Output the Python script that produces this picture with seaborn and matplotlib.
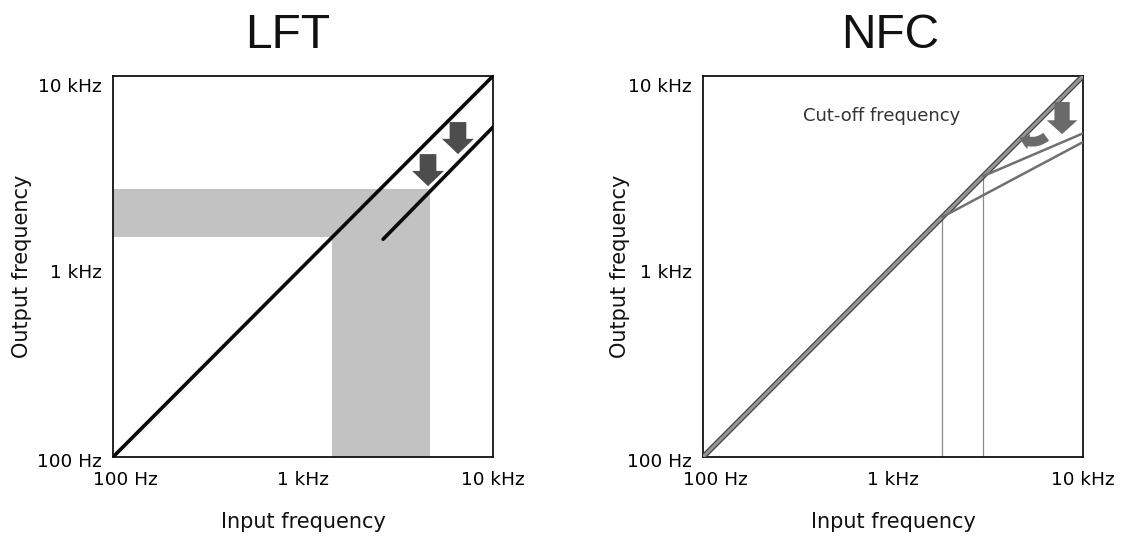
import numpy as np
import pandas as pd
import matplotlib
matplotlib.use("Agg")
import matplotlib.pyplot as plt
import matplotlib.transforms as mtransforms
from matplotlib.patches import FancyArrowPatch
import seaborn as sns

# ---------------- data ----------------
tick_values = [100, 1000, 10000]
tick_labels = ["100 Hz", "1 kHz", "10 kHz"]

# LFT panel
lft_diag_in = [100, 10000]
lft_diag_out = [100, 10000]
lft_shift_in = [2640, 10000]
lft_shift_out = [1390, 5390]
band_out_range = [1420, 2540]      # horizontal grey band (output)
band_in_range = [1420, 4660]       # vertical grey band (input)
lft_arrow_x = [4550, 6540]
lft_arrow_top = [3890, 5730]
lft_arrow_tip = [2640, 3890]

# NFC panel
nfc_diag_in = [100, 10000]
nfc_diag_out = [100, 10000]
nfc_cutoffs = [1820, 2980]
nfc_end_in = [10000, 10000]
nfc_end_out = [4500, 5000]
nfc_arrow_x = [7760]
nfc_arrow_top = [7300]
nfc_arrow_tip = [4950]
curve_arrow_from = [6400, 4800]
curve_arrow_to = [4650, 4750]

W, H = 1122, 538
fig = plt.figure(figsize=(W / 100, H / 100), dpi=100)
sns.set_style("white")
plt.rcParams['font.family'] = ['DejaVu Sans']

def ax_rect(x0, y0, x1, y1):
    return [x0 / W, (H - y1) / H, (x1 - x0) / W, (y1 - y0) / H]

axL = fig.add_axes(ax_rect(113, 76, 493, 457))
axR = fig.add_axes(ax_rect(703, 76, 1083, 457))

def style_axes(ax, xlab_x):
    ax.set_xscale("log")
    ax.set_yscale("log")
    ax.set_xlim(100, 10000)
    ax.set_ylim(100, 10000)
    ax.set_xticks(tick_values)
    ax.set_xticklabels(tick_labels)
    ax.set_yticks(tick_values)
    ax.set_yticklabels(tick_labels)
    ax.minorticks_off()
    ax.tick_params(axis="both", length=0, labelsize=13.3, colors="#000000")
    ax.tick_params(axis="x", pad=10)
    ax.tick_params(axis="y", pad=8)
    for s in ax.spines.values():
        s.set_visible(True)
        s.set_color("#111111")
        s.set_linewidth(1.3)
    ax.grid(False)
    xl = ax.get_xticklabels()
    xl[0].set_transform(xl[0].get_transform() + mtransforms.ScaledTranslation(12 / 100, 0, fig.dpi_scale_trans))
    yl = ax.get_yticklabels()
    for lab, dy in zip(yl, [3, 5, 9]):
        lab.set_transform(lab.get_transform() + mtransforms.ScaledTranslation(0, -dy / 100, fig.dpi_scale_trans))

def set_labels(ax, xlab_x):
    ax.set_xlabel("Input frequency", fontsize=15, color="#111111", va="center")
    ax.set_ylabel("Output frequency", fontsize=15, color="#111111", va="center")
    ax.xaxis.set_label_coords(0.5, -(522 - 457) / 381)
    ax.yaxis.set_label_coords(-xlab_x / 380, 0.5)

style_axes(axL, 91)
style_axes(axR, 83)

def block_arrow(ax, x, y0, y1, tail, head_w, head_l, color):
    a = FancyArrowPatch((x, y0), (x, y1),
                        arrowstyle=f"simple,head_length={head_l},head_width={head_w},tail_width={tail}",
                        mutation_scale=1, shrinkA=0, shrinkB=0,
                        color=color, lw=0, zorder=5)
    ax.add_patch(a)

# ---------- LFT ----------
band_col = "#c2c2c2"
axL.fill_between([100, band_in_range[1]], band_out_range[0], band_out_range[1],
                 color=band_col, lw=0, zorder=1)
axL.fill_between(band_in_range, 100, band_out_range[0],
                 color=band_col, lw=0, zorder=1)
dfL1 = pd.DataFrame({"x": lft_diag_in, "y": lft_diag_out})
dfL2 = pd.DataFrame({"x": lft_shift_in, "y": lft_shift_out})
sns.lineplot(data=dfL1, x="x", y="y", ax=axL, color="#0a0a0a", lw=2.6, sort=False, zorder=3)
sns.lineplot(data=dfL2, x="x", y="y", ax=axL, color="#0a0a0a", lw=2.6, sort=False, zorder=3)
for x, t, b in zip(lft_arrow_x, lft_arrow_top, lft_arrow_tip):
    block_arrow(axL, x, t, b, tail=12, head_w=23, head_l=11, color="#4d4d4d")
set_labels(axL, 91)

# ---------- NFC ----------
gray_line = "#707070"
for c in nfc_cutoffs:
    axR.plot([c, c], [100, c], color="#8a8a8a", lw=0.9, zorder=2)
dfR = pd.DataFrame({"x": nfc_diag_in, "y": nfc_diag_out})
sns.lineplot(data=dfR, x="x", y="y", ax=axR, color="#444444", lw=4.0, sort=False, zorder=3)
sns.lineplot(data=dfR, x="x", y="y", ax=axR, color="#959595", lw=2.2, sort=False, zorder=3)
for c, ex, ey in zip(nfc_cutoffs, nfc_end_in, nfc_end_out):
    d = pd.DataFrame({"x": [c, ex], "y": [c, ey]})
    sns.lineplot(data=d, x="x", y="y", ax=axR, color=gray_line, lw=1.8, sort=False, zorder=3)
for x, t, b in zip(nfc_arrow_x, nfc_arrow_top, nfc_arrow_tip):
    block_arrow(axR, x, t, b, tail=11, head_w=22, head_l=10, color="#6a6a6a")
ca = FancyArrowPatch(tuple(curve_arrow_from), tuple(curve_arrow_to),
                     arrowstyle="simple,head_length=7,head_width=11,tail_width=7",
                     connectionstyle="arc3,rad=-0.35", mutation_scale=1,
                     shrinkA=0, shrinkB=0, color="#6a6a6a", lw=0, zorder=5)
axR.add_patch(ca)
axR.text(0.47, 0.895, "Cut-off frequency", transform=axR.transAxes, ha="center", va="center",
         fontsize=13, color="#333333")
set_labels(axR, 83)

# titles
fig.text(288 / W, (H - 48) / H, "LFT", ha="center", va="baseline", fontsize=34.5,
         family="Liberation Sans", color="#111111")
fig.text(890 / W, (H - 48) / H, "NFC", ha="center", va="baseline", fontsize=34.5,
         family="Liberation Sans", color="#111111")

fig.savefig("out.png", dpi=100)
